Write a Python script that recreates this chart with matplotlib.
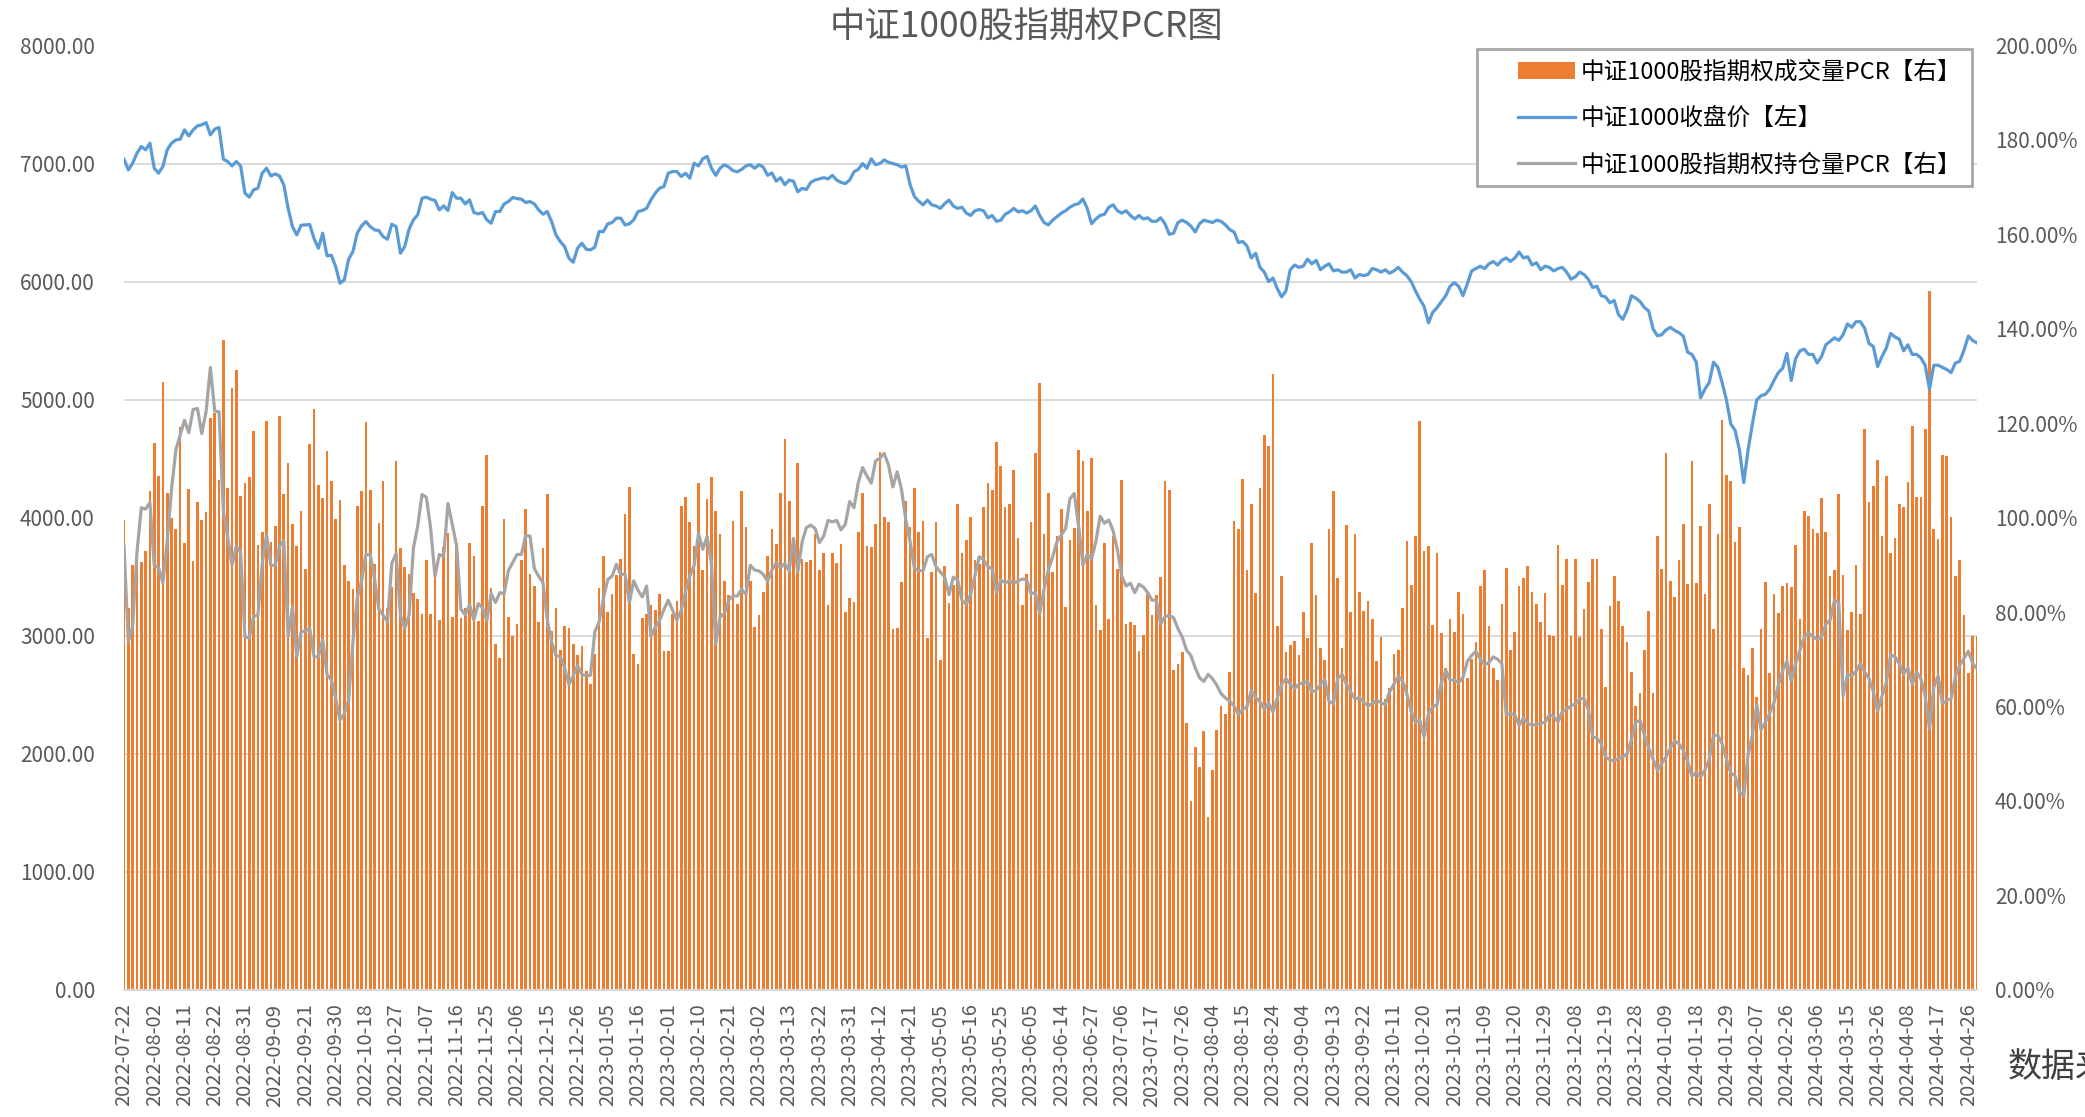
import numpy as np
import matplotlib.pyplot as plt
from matplotlib.ticker import MultipleLocator, FuncFormatter
from matplotlib.patches import Patch, Rectangle
from matplotlib.lines import Line2D

plt.rcParams['font.family'] = ['Noto Sans CJK SC', 'DejaVu Sans']

# 横轴标签（每7个交易日一个）
tick_labels = [
    '2022-07-22', '2022-08-02', '2022-08-11', '2022-08-22', '2022-08-31', '2022-09-09',
    '2022-09-21', '2022-09-30', '2022-10-18', '2022-10-27', '2022-11-07', '2022-11-16',
    '2022-11-25', '2022-12-06', '2022-12-15', '2022-12-26', '2023-01-05', '2023-01-16',
    '2023-02-01', '2023-02-10', '2023-02-21', '2023-03-02', '2023-03-13', '2023-03-22',
    '2023-03-31', '2023-04-12', '2023-04-21', '2023-05-05', '2023-05-16', '2023-05-25',
    '2023-06-05', '2023-06-14', '2023-06-27', '2023-07-06', '2023-07-17', '2023-07-26',
    '2023-08-04', '2023-08-15', '2023-08-24', '2023-09-04', '2023-09-13', '2023-09-22',
    '2023-10-11', '2023-10-20', '2023-10-31', '2023-11-09', '2023-11-20', '2023-11-29',
    '2023-12-08', '2023-12-19', '2023-12-28', '2024-01-09', '2024-01-18', '2024-01-29',
    '2024-02-07', '2024-02-26', '2024-03-06', '2024-03-15', '2024-03-26', '2024-04-08',
    '2024-04-17', '2024-04-26',
]

# 中证1000收盘价（左轴）
close = [
    7037, 6946, 7003, 7088, 7144, 7116, 7172, 6960, 6918, 6975,
    7116, 7172, 7200, 7206, 7285, 7234, 7285, 7319, 7328, 7347,
    7243, 7291, 7305, 7037, 7017, 6980, 7017, 6980, 6749, 6715,
    6777, 6791, 6918, 6960, 6895, 6912, 6895, 6819, 6621, 6466,
    6395, 6477, 6480, 6483, 6364, 6282, 6410, 6218, 6223, 6127,
    5986, 6014, 6189, 6254, 6410, 6472, 6508, 6466, 6438, 6432,
    6381, 6359, 6486, 6466, 6240, 6297, 6444, 6523, 6565, 6706,
    6715, 6698, 6686, 6607, 6641, 6602, 6754, 6706, 6706, 6658,
    6692, 6585, 6573, 6585, 6523, 6494, 6593, 6593, 6658, 6678,
    6712, 6703, 6698, 6670, 6678, 6658, 6607, 6570, 6593, 6508,
    6395, 6339, 6297, 6198, 6164, 6282, 6325, 6274, 6268, 6291,
    6424, 6424, 6489, 6500, 6537, 6537, 6480, 6489, 6523, 6593,
    6602, 6621, 6692, 6749, 6791, 6805, 6918, 6932, 6932, 6890,
    6918, 6876, 7003, 6980,
    7040, 7060, 6960, 6900, 6960, 6990, 6970, 6940, 6930, 6950,
    6980, 6990, 6960, 6990, 6970, 6900, 6920, 6850, 6880, 6820,
    6860, 6850, 6760, 6790, 6780, 6840, 6860, 6870, 6880, 6870,
    6900, 6860, 6840, 6830, 6860, 6930, 6950, 7000, 6960, 7040,
    6990, 7000, 7030, 7010, 7000, 6990, 6970, 6980, 6820, 6720,
    6680, 6650, 6690, 6650, 6640, 6620, 6660, 6690, 6640, 6620,
    6630, 6580, 6560, 6600, 6610, 6600, 6540, 6560, 6510, 6520,
    6570, 6590, 6620, 6590, 6600, 6580, 6600, 6640, 6560, 6500,
    6480, 6520, 6550, 6580, 6600, 6630, 6650, 6660, 6700, 6620,
    6490, 6530, 6560, 6570, 6630, 6650, 6600, 6580, 6600, 6560,
    6530, 6560, 6530, 6540, 6510, 6510, 6540, 6490, 6400, 6410,
    6500, 6520, 6500, 6470, 6420, 6490, 6520, 6510, 6500, 6520,
    6510, 6480, 6440, 6420, 6330, 6340, 6300, 6200, 6240, 6120,
    6080, 6000, 6030, 5940, 5870, 5920, 6100, 6140, 6120, 6130,
    6190, 6150, 6180, 6100, 6130, 6150, 6090, 6100, 6080, 6080,
    6100, 6030, 6060, 6050, 6060, 6110, 6100, 6080, 6100, 6070,
    6090, 6120, 6080, 6050, 6000, 5920, 5850, 5790, 5650, 5740,
    5780, 5830, 5880, 5960, 5990, 5960, 5880, 5980, 6090, 6110,
    6130, 6110, 6150, 6170, 6140, 6180, 6200, 6170, 6200, 6250,
    6200, 6210, 6140, 6160, 6100, 6130, 6120, 6090, 6110, 6120,
    6080, 6020, 6040, 6080, 6060, 6020, 5950, 5960, 5880, 5870,
    5820, 5840, 5720, 5680, 5760, 5880, 5860, 5830, 5780, 5750,
    5600, 5540, 5550, 5590,
    5612, 5586, 5567, 5538, 5402, 5383, 5317, 5015, 5088, 5144,
    5317, 5273, 5144, 4996, 4794, 4738, 4573, 4296, 4573, 4794,
    4996, 5033, 5044, 5088, 5162, 5228, 5265, 5391, 5162, 5346,
    5413, 5427, 5383, 5383, 5310, 5365, 5464, 5494, 5523, 5501,
    5549, 5641, 5612, 5660, 5660, 5604, 5475, 5450, 5280, 5365,
    5438, 5560, 5531, 5512, 5413, 5464, 5383, 5383, 5354, 5291,
    5088, 5291, 5291, 5273, 5254, 5228, 5310, 5324, 5420, 5538,
    5501, 5480,
]

# 中证1000股指期权成交量PCR（右轴，%）
vol_pcr = [
    99.4, 80.9, 89.9, 92.6, 90.5, 92.9, 105.7, 115.9, 108.8, 128.8,
    105.2, 100, 97.6, 119.1, 94.7, 106.1, 90.8, 103.4, 99.4, 101.1,
    121, 122.2, 108, 137.7, 106.2, 127.4, 131.2, 104.5, 107.3, 108.5,
    118.3, 94.2, 97, 120.4, 94.9, 98.3, 121.6, 104.9, 111.6, 98.6,
    94, 101.4, 89.2, 115.5, 123.1, 106.9, 104.1, 114.1, 107.8, 99.7,
    103.7, 89.9, 86.6, 84.8, 102.5, 105.7, 120.3, 105.8, 90.2, 98.9,
    107.8, 80.9, 85.4, 111.9, 93.6, 89.6, 88, 84.1, 82.7, 79.5,
    91, 79.5,
    88, 78.4, 93.8, 96.8, 79, 94.7, 78.8, 80.9, 94.7, 91.8,
    78.2, 102.4, 113.3, 85.1, 73.3, 70.2, 99.6, 79, 74.9, 77.5,
    91.1, 101.8, 88.1, 85.6, 77.9, 93.5, 105, 76, 80.9, 71.9,
    77.1, 76.7, 73.3, 70.8, 72.8, 67.6, 64.7, 71.2, 85, 91.8,
    79.9, 83.9, 87.8, 91.2, 100.7, 106.4, 71.2, 68.9, 78.7, 79.5,
    81.4, 80.4, 83.8, 71.8, 71.8, 79.6, 82.4, 102.4, 104.4, 99.1,
    94, 107.4, 89, 103.9, 108.6, 101.5, 96.5, 86.6, 83.6, 99.3,
    81.6, 105.6,
    98.1, 86.5, 76.9, 79.3, 84.3, 91.9, 97.6, 94.5, 105.3, 116.7,
    103.6, 95.7, 111.5, 91.2, 90.7, 91, 96.6, 88.8, 92.4, 81.5,
    92.6, 90.4, 94.5, 79.9, 82.9, 82.2, 97, 105.2, 93.9, 93.8,
    98.6, 114, 100.2, 99, 76.5, 76.6, 86.4, 103.5, 98, 106.2,
    97, 99.2, 74.6, 88.5, 99, 69.9, 89.8, 81.9, 85.8, 102.9,
    92.5, 95.3, 100.1, 91.1, 90.1, 102.3, 107.4, 105.8, 116, 110.9,
    102.2, 102.9, 110, 95.7, 81.4, 88, 99, 113.7, 128.5, 96.5,
    105.2, 88.5,
    96.1, 101.8, 81.1, 95.2, 97.9, 114.3, 112, 101.4, 112.7, 81.4,
    76.2, 94.6, 78.5, 96, 89.1, 108, 77.5, 77.9, 77.3, 71.7,
    75.2, 83.9, 79.4, 83.6, 87.4, 107.7, 105.8, 67.8, 69, 71.6,
    56.5, 39.9, 51.5, 47.2, 54.8, 36.5, 46.5, 55, 60.1, 58.5,
    67.4, 99.3, 97.6, 108.1, 88.8, 102.9, 84.1, 106.3, 117.5, 115.1,
    130.4, 77, 87.7, 71.5, 73.1, 73.8, 70.9, 79.9, 74.6, 94.6,
    83.7, 72.3, 69.8, 97.5, 105.6, 87.2, 72.3, 98.5, 79.9, 96.5,
    84.2, 80.3,
    82.4, 78.6, 69.6, 74.7, 61.5, 63.9, 71.2, 72, 80.8, 95,
    85.8, 96, 120.5, 93, 93.9, 77.2, 92.5, 75.6, 68.2, 78.6,
    75.8, 84.2, 79.6, 66, 70, 73.7, 85.6, 88.8, 77, 68.2,
    65.5, 81.8, 89.3, 72, 75.8, 85.6, 87.3, 89.7, 84.3, 81.8,
    77.9, 84.1, 75.2, 75, 94.1, 85.8, 91.2, 75, 91.2, 74.7,
    80.7, 86.4, 91.3, 91.2, 76.4, 64.1, 81.3, 87.6, 82.4, 77.1,
    73.6, 67.4, 60, 62.9, 72, 80.3, 62.9, 96, 89.2, 113.6,
    86.5, 83.2,
    91, 98.6, 85.9, 112, 86.2, 98.2, 83.8, 102.9, 76.5, 96.5,
    120.7, 109.1, 107.7, 94.9, 98.1, 68.2, 66.7, 72.3, 62, 76.5,
    86.3, 67, 83.8, 79.8, 85.6, 86.2, 85.4, 94.2, 78.6, 101.3,
    100.4, 97.6, 96.7, 104.1, 96.9, 87.6, 88.9, 105.1, 87.9, 76.1,
    80.1, 90, 79.5, 118.7, 103.4, 106.7, 112.2, 96.1, 108.8, 92.4,
    95.7, 102.9, 102.2, 107.6, 119.3, 104.3, 104.3, 118.7, 148, 97.6,
    95.4, 113.2, 113.1, 100.2, 87.6, 91.1, 79.3, 67.1, 75, 75,
]

# 中证1000股指期权持仓量PCR（右轴，%）
oi_pcr = [
    94, 73.7, 77, 92.6, 102.1, 101.8, 103.2, 89.9, 89.4, 86.2,
    94.9, 106, 114.3, 117.5, 120.6, 118, 122.9, 123.1, 117.8, 122.4,
    131.8, 122.6, 122.4, 101.4, 95.9, 89.9, 94, 92.6, 74.7, 74.5,
    79.1, 79.3, 90.3, 96.3, 89.9, 89.9, 94, 95.1, 74.8, 81.1,
    70.5, 75.8, 76, 76.5, 70.5, 70.5, 74.2, 66.8, 65.6, 61.8,
    57.1, 58.5, 61.3, 73.7, 82.9, 86.6, 92.2, 92.2, 87.1, 80.6,
    79.3, 77.9, 90.3, 92.4, 79.3, 76.5, 79.3, 93.5, 98.2, 104.9,
    104.3, 97.7,
    87.6, 92.2, 91.7, 103, 98.6, 94, 80.6, 79.4, 81.6, 78.3,
    81.8, 80.9, 78.2, 83.9, 82, 84.1, 83.9, 88.8, 90.5, 92.2,
    92.2, 96.2, 96.1, 89.2, 87.6, 86.2, 78.3, 73.7, 70.8, 70.5,
    68.2, 64.7, 66.5, 68.7, 66.8, 66.5, 66.6, 75.8, 77.9, 82.9,
    86.9, 87.6, 90.1, 88, 88, 82, 86.6, 84.6, 83.2, 85.5,
    74.8, 76.8, 78.2, 80.5, 82.5, 80.4, 78.3, 80.4, 84.3, 87.6,
    89.9, 96.6, 93.3, 96, 90.3, 73.3, 79, 79.7, 82.5, 83.4,
    83.4, 84.8,
    83.7, 89.9, 88.9, 88.7, 88, 86.5, 88.9, 90.5, 89.4, 90.3,
    88.7, 95.6, 88.5, 94.9, 97.9, 98.4, 97.7, 94.7, 96.1, 99.4,
    99.1, 99.4, 97.4, 98.6, 103.4, 102.1, 107.4, 110.6, 108.8, 107.3,
    112, 112.6, 113.6, 111.1, 106.5, 109.7, 106, 99.5, 94.9, 89.2,
    88.8, 88.7, 91.7, 92.2, 89.6, 88.5, 87.4, 83.7, 87.4, 86.8,
    82.5, 81.6, 83.7, 87.7, 91.7, 91.1, 89.6, 89.2, 84.1, 86.8,
    86.2, 86.6, 86.1, 86.6, 87, 86.8, 83.9, 84.1, 79.7, 84.8,
    88.9, 91.7,
    94.9, 96.3, 97.7, 104, 105.1, 98.2, 89.9, 92.2, 91.2, 94.9,
    100.3, 98.8, 99.5, 97.2, 93.1, 87.6, 85.5, 86.1, 84.1, 85.9,
    85.3, 84.1, 82.5, 82.5, 77.4, 79, 79.3, 78.8, 76.5, 74.7,
    71.9, 70.8, 68.2, 66.1, 65.3, 66.8, 65.9, 64.5, 62.7, 61.8,
    61.1, 60.1, 58.3, 59.4, 59.9, 63.4, 61.9, 61, 59.4, 60.8,
    58.8, 61.8, 64.7, 65.9, 64.7, 63.8, 64.7, 65, 65.3, 63.1,
    63.4, 64.7, 65.7, 61, 60.6, 65.9, 66.8, 64.7, 63.1, 61.6,
    61.8, 61,
    60.1, 60.6, 61.3, 60.8, 60.4, 63.1, 64.7, 66.4, 65.4, 62.7,
    59, 56.7, 57.1, 53.5, 58.5, 59.9, 60.4, 65, 67.7, 65.6,
    65.6, 65, 66.2, 69.5, 70.8, 71.7, 70, 68.8, 69.3, 70.5,
    70, 69.1, 58.3, 58.5, 58.2, 56, 57.6, 56.4, 56, 56.2,
    56.4, 56.7, 58.2, 57.9, 56.7, 59, 59.4, 60.1, 60.6, 61.5,
    61.8, 59.4, 53.6, 53.3, 52.1, 49.3, 48.7, 48.4, 49, 49.3,
    50, 53, 56.7, 57, 53.9, 51.2, 48.8, 46.5, 47.9, 49.3,
    51.2, 52.7,
    52.1, 50.7, 48.4, 45.2, 46.1, 45, 46.5, 48.8, 53.9, 53.9,
    52.1, 48.8, 45.9, 45.3, 41.9, 41, 49.8, 53.9, 60.4, 55.1,
    56.7, 58.5, 60.8, 64.5, 67.5, 69.6, 65.4, 69.1, 71.9, 74.7,
    75.6, 74.8, 74.2, 74.7, 77.4, 78.3, 82.5, 82, 62.2, 66.8,
    66.5, 67.5, 69.1, 67.3, 65.9, 63.1, 59, 62.2, 65, 71,
    70.5, 69.1, 66.8, 68.2, 64.7, 67.3, 65.9, 62.2, 55.3, 64.1,
    66.5, 60.6, 61.3, 61.6, 66.4, 68.7, 70.2, 71.7, 69.1, 68,
]

n = len(close)
x = np.arange(n)

orange = '#ED7D31'
blue = '#5B9BD5'
grey = '#A5A5A5'
txt = '#595959'

W, H = 2085, 1117
fig = plt.figure(figsize=(W / 100, H / 100), dpi=100)
left, right, top, bottom = 124, 1977, 45.5, 989.7
ax = fig.add_axes([left / W, 1 - bottom / H, (right - left) / W, (bottom - top) / H])
ax2 = ax.twinx()

# 右轴：PCR（柱和持仓量线）
ax.bar(x, vol_pcr, width=0.62, color=orange, zorder=2)
ax.plot(x, oi_pcr, color=grey, lw=2.3, zorder=3)
ax.set_xlim(0, n - 1)
ax.set_ylim(0, 200)
ax.yaxis.tick_right()
ax.yaxis.set_label_position('right')
ax.yaxis.set_major_locator(MultipleLocator(20))
ax.yaxis.set_major_formatter(FuncFormatter(lambda v, p: '%.2f%%' % v))
ax.yaxis.set_minor_locator(MultipleLocator(25))
ax.grid(axis='y', which='minor', color='#D9D9D9', lw=1.3, zorder=0)
ax.set_axisbelow(True)
ax.tick_params(axis='y', which='both', length=0, labelsize=15, colors=txt, pad=13,
               left=False, labelleft=False, right=True, labelright=True)

ax.set_xticks(np.arange(0, n, 7)[:len(tick_labels)])
ax.set_xticklabels(tick_labels, rotation=90)
ax.tick_params(axis='x', length=0, labelsize=14.5, colors=txt, pad=10)

# 左轴：收盘价
ax2.plot(x, close, color=blue, lw=2.3, zorder=4)
ax2.set_ylim(0, 8000)
ax2.yaxis.tick_left()
ax2.yaxis.set_label_position('left')
ax2.yaxis.set_major_locator(MultipleLocator(1000))
ax2.yaxis.set_major_formatter(FuncFormatter(lambda v, p: '%.2f' % v))
ax2.tick_params(axis='y', length=0, labelsize=15, colors=txt, pad=21,
                right=False, labelright=False, left=True, labelleft=True)

for a in (ax, ax2):
    for s in ('top', 'left', 'right'):
        a.spines[s].set_visible(False)
    a.spines['bottom'].set_color('#D9D9D9')
    a.spines['bottom'].set_linewidth(1.3)

# 图例外框
fig.add_artist(Rectangle((1477 / W, 1 - 186 / H), (1972 - 1477) / W, (186 - 49) / H,
                         transform=fig.transFigure, facecolor='white',
                         edgecolor='#A6A6A6', lw=2, zorder=3))
handles = [
    Patch(facecolor=orange, edgecolor='none'),
    Line2D([], [], color=blue, lw=2.3),
    Line2D([], [], color=grey, lw=2.3),
]
labels = ['中证1000股指期权成交量PCR【右】', '中证1000收盘价【左】', '中证1000股指期权持仓量PCR【右】']
leg = fig.legend(handles, labels, loc='upper left', bbox_to_anchor=(1518 / W, 1 - 61 / H),
                 fontsize=17, frameon=False, handlelength=2.4, handleheight=0.7,
                 handletextpad=0.25, labelspacing=0.98, borderpad=0, borderaxespad=0)
leg.set_zorder(4)
for t in leg.get_texts():
    t.set_color('black')

fig.text(1026 / W, 1 - 28 / H, '中证1000股指期权PCR图', ha='center', va='center',
         fontsize=25.5, color=txt)
fig.text(2008 / W, 1 - 1068 / H, '数据来源：Wind', ha='left', va='center',
         fontsize=24.5, color='#404040')

fig.savefig('out.png', dpi=100)
